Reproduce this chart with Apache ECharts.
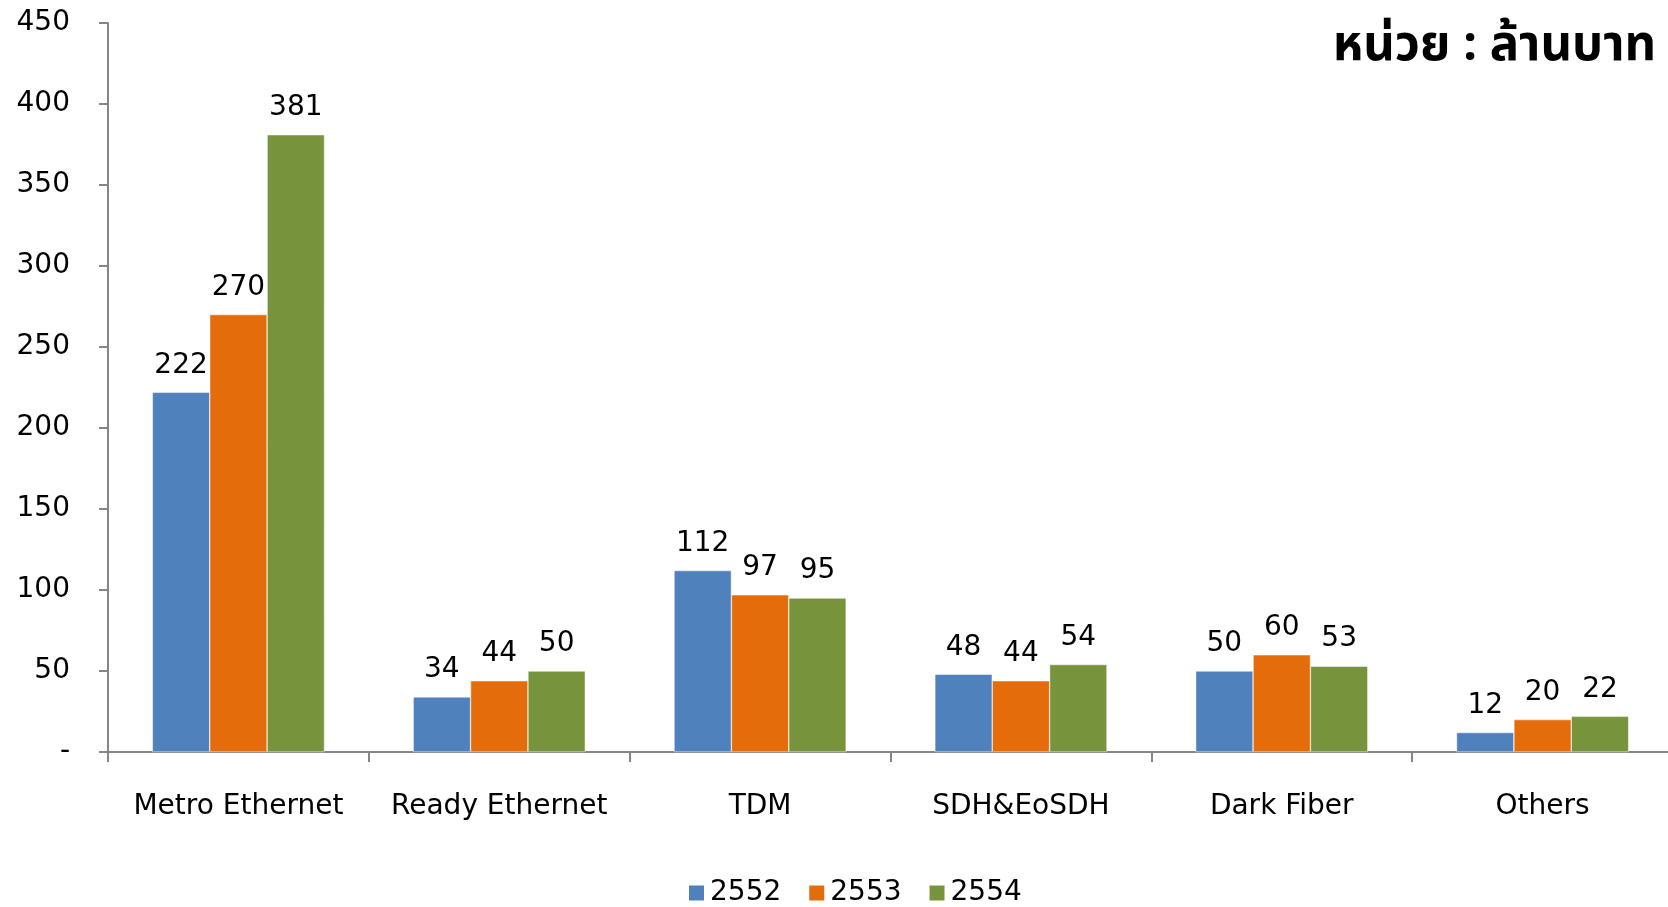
<!DOCTYPE html>
<html><head><meta charset="utf-8">
<script src="https://cdn.jsdelivr.net/npm/echarts@6/dist/echarts.min.js"></script>
<style>html,body{margin:0;padding:0;background:#fff}#c{width:1668px;height:907px}</style>
</head><body><div id="c"></div>
<script>
const categories = ['Metro Ethernet','Ready Ethernet','TDM','SDH&EoSDH','Dark Fiber','Others'];
const seriesNames = ['2552','2553','2554'];
const v2552 = [222, 34, 112, 48, 50, 12];
const v2553 = [270, 44, 97, 44, 60, 20];
const v2554 = [381, 50, 95, 54, 53, 22];
const yTicks = {min: 0, max: 450, interval: 50};
const titleText = 'หน่วย : ล้านบาท';

const colors = ['#4F81BD', '#E46C0A', '#77933C'];
const FONT = '"DejaVu Sans", "Noto Sans", sans-serif';
const chart = echarts.init(document.getElementById('c'));
const mk = (name, data, i) => ({
  name, type: 'bar', data, barGap: '0%', barCategoryGap: '34%',
  itemStyle: {color: colors[i], borderColor: '#fff', borderWidth: 0.5},
  label: {show: true, position: 'top', distance: 13, color: '#000', fontSize: 28, fontFamily: FONT},
  emphasis: {disabled: true}, animation: false
});
chart.setOption({
  animation: false,
  title: {text: titleText, right: 7, top: 17,
    textStyle: {fontSize: 49, fontWeight: 'bold', color: '#000', fontFamily: '"Noto Sans", "Noto Sans Thai", sans-serif'}},
  legend: {data: seriesNames, left: 687, top: 879, padding: 0, itemWidth: 17, itemHeight: 17, itemGap: 26,
    icon: 'rect', textStyle: {fontSize: 28, color: '#000', fontFamily: FONT}},
  grid: {left: 108, top: 23, width: 1565, height: 729, containLabel: false, outerBoundsMode: 'none'},
  xAxis: {type: 'category', data: categories,
    axisLine: {lineStyle: {color: '#868686', width: 2}},
    axisTick: {show: true, interval: 0, length: 10, lineStyle: {color: '#868686', width: 2}},
    axisLabel: {interval: 0, margin: 41, color: '#000', fontSize: 28, fontFamily: FONT}},
  yAxis: {type: 'value', min: yTicks.min, max: yTicks.max, interval: yTicks.interval,
    splitLine: {show: false},
    axisLine: {show: true, lineStyle: {color: '#868686', width: 2}},
    axisTick: {show: true, length: 9, lineStyle: {color: '#868686', width: 2}},
    axisLabel: {margin: 38, color: '#000', fontSize: 28, fontFamily: FONT,
      formatter: v => v === 0 ? '-' : String(v)}},
  series: [mk(seriesNames[0], v2552, 0), mk(seriesNames[1], v2553, 1), mk(seriesNames[2], v2554, 2)]
});
</script></body></html>
